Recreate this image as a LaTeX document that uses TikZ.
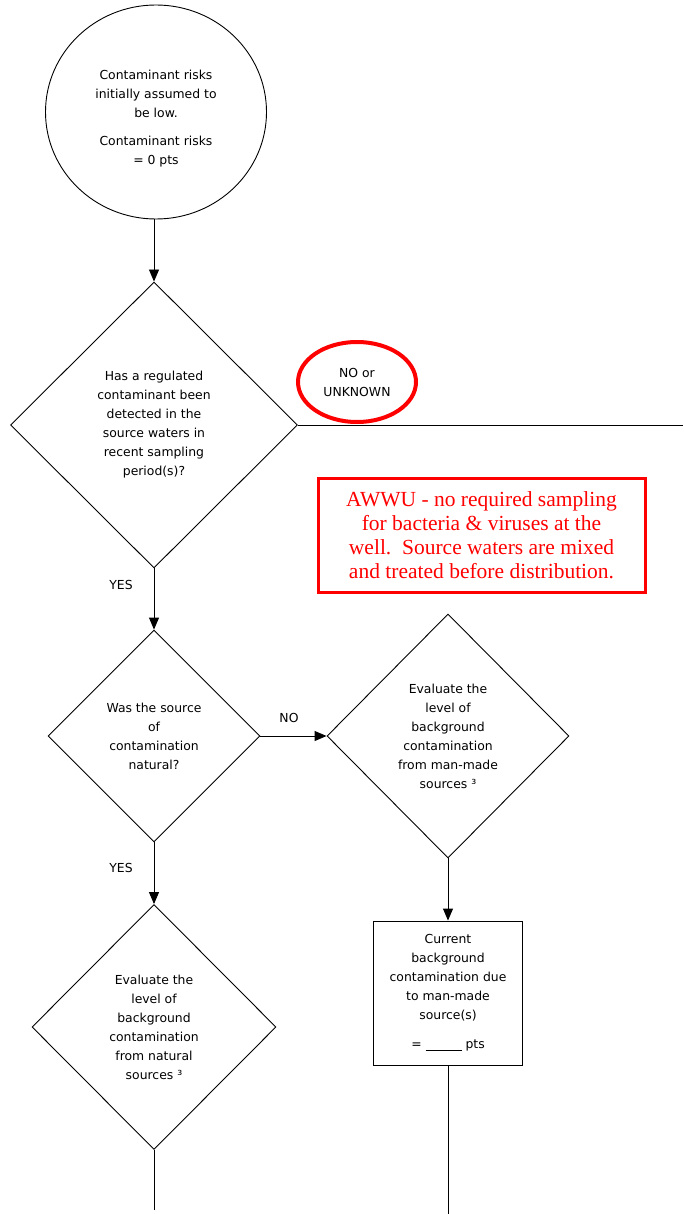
\documentclass[tikz,border=0pt]{standalone}
\usepackage{fontspec}
\setmainfont{DejaVu Sans}
\newfontfamily\notefont{Liberation Serif}
\usetikzlibrary{arrows.meta,shapes.geometric,positioning}

\tikzset{
  flow/.style={draw, line width=0.9pt, align=center, inner sep=0pt,
    font=\fontsize{12.4}{19}\selectfont},
  decide/.style={flow, diamond},
  procbox/.style={flow, rectangle},
  startnode/.style={flow, ellipse},
  lbl/.style={font=\fontsize{12.4}{19}\selectfont, inner sep=0pt},
  link/.style={line width=0.9pt},
  arrowlink/.style={link, -{Triangle[length=12pt,width=10pt]}},
  redmark/.style={draw=red, ellipse, line width=4pt, align=center, inner sep=0pt,
    font=\fontsize{12.4}{19}\selectfont},
  rednote/.style={draw=red, rectangle, line width=3pt, text=red, align=center,
    inner sep=0pt, font=\notefont\fontsize{21.5}{24}\selectfont}
}

\begin{document}
\begin{tikzpicture}[x=1pt,y=-1pt]
    \useasboundingbox (0,0) rectangle (683,1214);
    %%start
    \node[startnode, minimum width=221pt, minimum height=214pt] (start) at (156,112)
      {\rule{0pt}{22pt}Contaminant risks\\initially assumed to\\be low.\\[9pt]Contaminant risks\\= 0 pts};
    %%first question
    \node[decide, minimum width=287pt, minimum height=286pt] (q1) at (154,425)
      {Has a regulated\\contaminant been\\detected in the\\source waters in\\recent sampling\\period(s)?};
    \coordinate (exit) at (683,425);
    \node[redmark, minimum width=118pt, minimum height=80pt] (nomark) at (357,382) {NO or\\UNKNOWN};
    \node[rednote, minimum width=327pt, minimum height=114pt] (note) at (481.5,535)
      {AWWU - no required sampling\\for bacteria \& viruses at the\\well.\ \ Source waters are mixed\\and treated before distribution.};
    %%natural or man-made
    \node[decide, minimum width=212pt, minimum height=212pt] (q2) at (154,736)
      {Was the source\\of\\contamination\\natural?};
    \node[decide, minimum width=242pt, minimum height=244pt] (q3) at (448,736)
      {Evaluate the\\level of\\background\\contamination\\from man-made\\sources ³};
    \node[procbox, minimum width=149pt, minimum height=144pt] (cur) at (448,993)
      {Current\\background\\contamination due\\to man-made\\source(s)\\[10pt]= \rule[-1.5pt]{36pt}{0.6pt} pts};
    \node[decide, minimum width=244pt, minimum height=245pt] (q4) at (154,1027)
      {Evaluate the\\level of\\background\\contamination\\from natural\\sources ³};
    \coordinate (endleft) at (154,1210);
    \coordinate (endright) at (448,1214);
    %%labels
    \node[lbl] (yes1) at (121,585) {YES};
    \node[lbl] (no2) at (289,718) {NO};
    \node[lbl] (yes2) at (121,868) {YES};
    %%connectors
    \draw[arrowlink] (q1.north |- start.south) -- (q1.north);
    \draw[link] (q1.east) -- (exit);
    \draw[arrowlink] (q1.south) -- (q2.north);
    \draw[arrowlink] (q2.east) -- (q3.west);
    \draw[arrowlink] (q2.south) -- (q4.north);
    \draw[arrowlink] (q3.south) -- (cur.north);
    \draw[link] (cur.south) -- (endright);
    \draw[link] (q4.south) -- (endleft);
\end{tikzpicture}
\end{document}
